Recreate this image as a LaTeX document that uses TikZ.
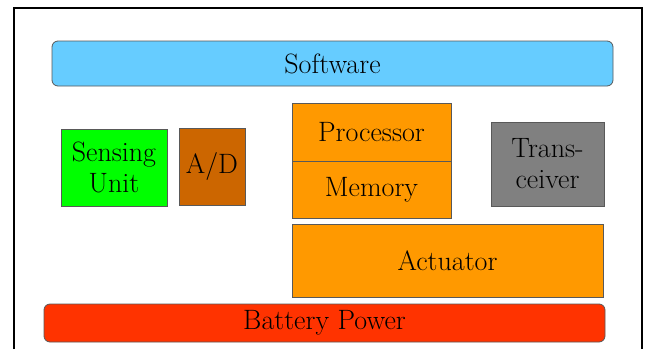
\documentclass[tikz,border=0pt]{standalone}
\definecolor{swblue}{RGB}{102,204,255}
\definecolor{sensgreen}{RGB}{0,255,0}
\definecolor{adbrown}{RGB}{204,102,0}
\definecolor{orng}{RGB}{255,153,0}
\definecolor{trgray}{RGB}{128,128,128}
\definecolor{batred}{RGB}{255,51,0}
\begin{document}
\begin{tikzpicture}[x=1pt,y=-1pt,
  box/.style={draw=black!65, line width=0.8pt, inner sep=0pt, align=center,
    font=\fontsize{28}{31}\selectfont, text=black},
  roundbox/.style={box, rounded corners=6pt}]
\useasboundingbox (0,0) rectangle (648,349);
\fill[white] (0,0) rectangle (648,349);
\draw[line width=2.6pt] (14,349) -- (14,8) -- (642,8) -- (642,349);
\node[roundbox, fill=swblue, minimum width=561pt, minimum height=45pt] (sw) at (332.5,63.5) {Software};
\node[box, fill=sensgreen, minimum width=106pt, minimum height=77pt] (sens) at (114,167.5) {Sensing\\Unit};
\node[box, fill=adbrown, minimum width=66pt, minimum height=77pt] (ad) at (212,166.5) {A/D};
\node[box, fill=orng, minimum width=159pt, minimum height=58pt] (proc) at (371.5,132) {Processor};
\node[box, fill=orng, minimum width=159pt, minimum height=57pt] (mem) at (371.5,189.5) {Memory};
\node[box, fill=trgray, minimum width=113pt, minimum height=84pt] (trx) at (547.5,164) {Trans-\\ceiver};
\node[box, fill=orng, minimum width=311pt, minimum height=73pt] (act) at (447.5,260.5) {Actuator};
\node[roundbox, fill=batred, minimum width=561pt, minimum height=38pt] (bat) at (324.5,323) {Battery Power};
\end{tikzpicture}
\end{document}
